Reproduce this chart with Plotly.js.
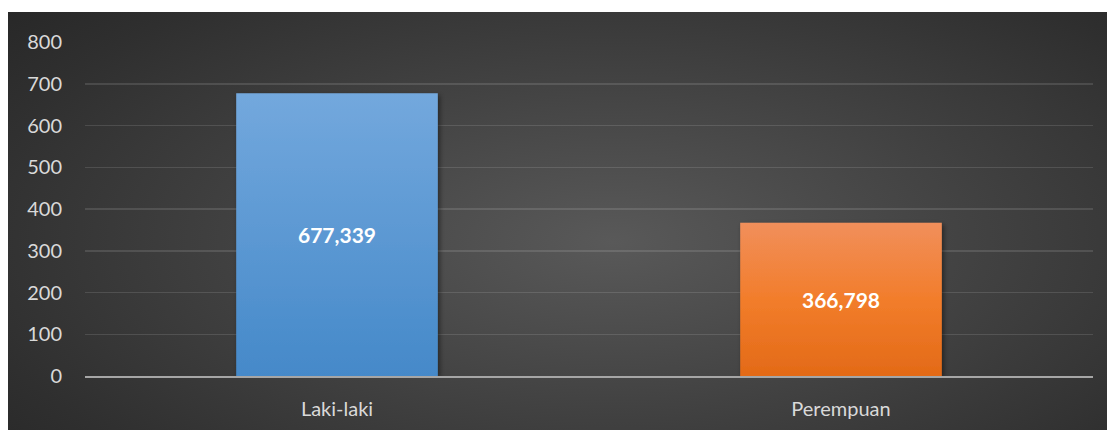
<!DOCTYPE html>
<html>
<head>
<meta charset="utf-8">
<script src="https://cdn.plot.ly/plotly-3.0.1.min.js"></script>
<style>
  html, body { margin: 0; padding: 0; background: #ffffff; width: 1107px; height: 430px; overflow: hidden; }
  #chart {
    position: absolute; left: 8px; top: 12px; width: 1099px; height: 418px;
    background: radial-gradient(ellipse 75% 90% at 55% 55%, #595959 0%, #444444 40%, #2f2f2f 80%, #262626 100%);
  }
</style>
</head>
<body>
<div id="chart"></div>
<script>
const categories = ["Laki-laki", "Perempuan"];
const values = [677.339, 366.798];
const valueLabels = ["677,339", "366,798"];
const yTickValues = [0, 100, 200, 300, 400, 500, 600, 700, 800];

const FONT = "Lato, 'Open Sans', sans-serif";

const trace = {
  type: "bar",
  x: categories,
  y: values,
  text: valueLabels,
  textposition: "inside",
  insidetextanchor: "middle",
  textangle: 0,
  textfont: { family: FONT, size: 21, color: "#ffffff", weight: "bold" },
  marker: { color: ["#5b9bd5", "#ed7d31"], line: { width: 0 } },
  width: 0.4,
  hoverinfo: "none"
};

const layout = {
  width: 1099,
  height: 418,
  margin: { l: 77, r: 14, t: 30, b: 54 },
  paper_bgcolor: "rgba(0,0,0,0)",
  plot_bgcolor: "rgba(0,0,0,0)",
  showlegend: false,
  font: { family: FONT, color: "#d9d9d9", size: 20 },
  xaxis: {
    type: "category",
    showgrid: false,
    showline: true,
    linecolor: "#a6a6a6",
    linewidth: 2,
    layer: "above traces",
    ticks: "",
    tickfont: { family: FONT, size: 20, color: "#d9d9d9" },
    ticklabelstandoff: 14
  },
  yaxis: {
    range: [0, 800],
    tickvals: yTickValues,
    ticktext: yTickValues.map(String),
    showgrid: true,
    gridcolor: "rgba(255,255,255,0.12)",
    gridwidth: 1.5,
    zeroline: false,
    showline: false,
    ticks: "",
    ticklabelstandoff: 22,
    tickfont: { family: FONT, size: 20, color: "#d9d9d9" }
  }
};

Plotly.newPlot("chart", [trace], layout, { staticPlot: true, displayModeBar: false }).then(function (gd) {
  const svgNS = "http://www.w3.org/2000/svg";
  const svg = gd.querySelector("svg.main-svg");
  let defs = svg.querySelector("defs");
  if (!defs) { defs = document.createElementNS(svgNS, "defs"); svg.insertBefore(defs, svg.firstChild); }
  const grads = [
    { id: "gBlue", stops: [["0%", "#73a8dd"], ["100%", "#4589c9"]] },
    { id: "gOrange", stops: [["0%", "#f18f5b"], ["50%", "#f27d2b"], ["100%", "#e36a17"]] }
  ];
  grads.forEach(function (g) {
    const lg = document.createElementNS(svgNS, "linearGradient");
    lg.setAttribute("id", g.id);
    lg.setAttribute("x1", "0"); lg.setAttribute("y1", "0");
    lg.setAttribute("x2", "0"); lg.setAttribute("y2", "1");
    g.stops.forEach(function (s) {
      const st = document.createElementNS(svgNS, "stop");
      st.setAttribute("offset", s[0]);
      st.setAttribute("stop-color", s[1]);
      lg.appendChild(st);
    });
    defs.appendChild(lg);
  });
  const filt = document.createElementNS(svgNS, "filter");
  filt.setAttribute("id", "barShadow");
  filt.setAttribute("x", "-10%"); filt.setAttribute("y", "-10%");
  filt.setAttribute("width", "130%"); filt.setAttribute("height", "130%");
  const ds = document.createElementNS(svgNS, "feDropShadow");
  ds.setAttribute("dx", "2"); ds.setAttribute("dy", "2");
  ds.setAttribute("stdDeviation", "2.5");
  ds.setAttribute("flood-color", "#000000");
  ds.setAttribute("flood-opacity", "0.45");
  filt.appendChild(ds);
  defs.appendChild(filt);

  const paths = gd.querySelectorAll(".barlayer .point path");
  paths.forEach(function (p, i) {
    p.style.fill = "url(#" + grads[i % grads.length].id + ")";
    p.setAttribute("filter", "url(#barShadow)");
  });
});
</script>
</body>
</html>
